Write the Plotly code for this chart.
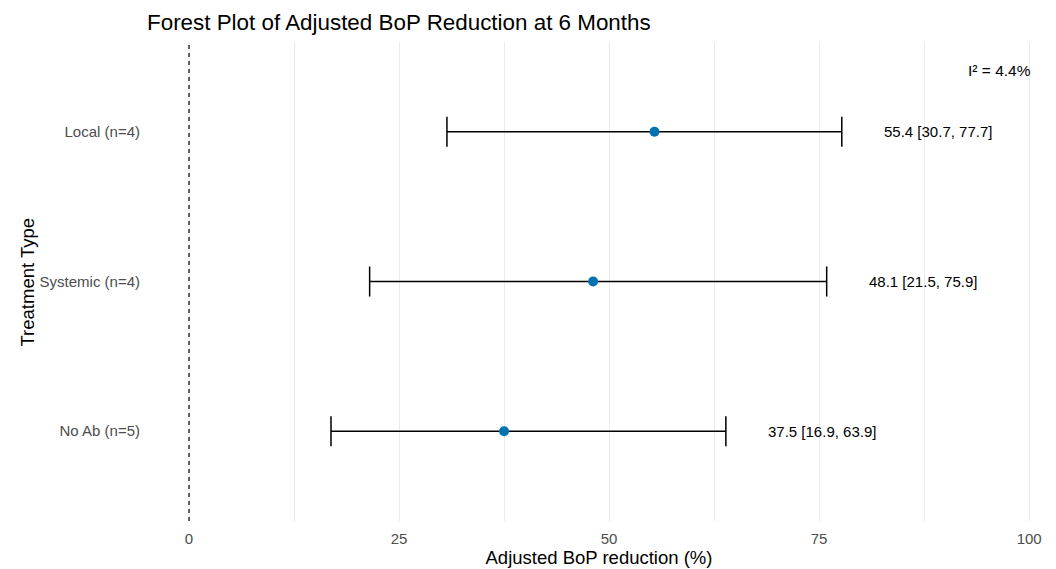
import plotly.graph_objects as go

categories = ["No Ab (n=5)", "Systemic (n=4)", "Local (n=4)"]
estimates = [37.5, 48.1, 55.4]
lowers = [16.9, 21.5, 30.7]
uppers = [63.9, 75.9, 77.7]
x_ticks = [0, 25, 50, 75, 100]
i2_text = "I² = 4.4%"

font_family = "Liberation Sans, Arial, sans-serif"
W, H = 1056, 569
ML, MR, MT, MB = 147, 5, 42, 45

fig = go.Figure()

fig.add_trace(go.Scatter(
    x=estimates,
    y=categories,
    mode="markers",
    marker=dict(color="#0072B2", size=10),
    error_x=dict(
        type="data",
        symmetric=False,
        array=[u - e for u, e in zip(uppers, estimates)],
        arrayminus=[e - l for e, l in zip(estimates, lowers)],
        color="black",
        thickness=1.5,
        width=15,
    ),
    showlegend=False,
    hoverinfo="skip",
))

# reference line
fig.add_shape(type="line", x0=0, x1=0, xref="x", y0=0, y1=1, yref="y domain",
              line=dict(color="black", width=1.2, dash="4px,4px"))

# value labels
for c, e, l, u in zip(categories, estimates, lowers, uppers):
    fig.add_annotation(x=u + 4.8, y=c, xref="x", yref="y",
                       text=f"{e:.1f} [{l:.1f}, {u:.1f}]",
                       showarrow=False, xanchor="left", yanchor="middle",
                       font=dict(family=font_family, size=15, color="black"))

fig.add_annotation(x=100.4, y=2.41, xref="x", yref="y", text=i2_text,
                   showarrow=False, xanchor="right", yanchor="middle",
                   font=dict(family=font_family, size=15.5, color="black"))

# y axis title
plot_w = W - ML - MR
fig.add_annotation(x=(27 - ML) / plot_w, y=0.5, xref="paper", yref="paper",
                   text="Treatment Type", textangle=-90, showarrow=False,
                   xanchor="center", yanchor="middle",
                   font=dict(family=font_family, size=18.5, color="black"))

fig.update_layout(
    width=W, height=H,
    margin=dict(l=ML, r=MR, t=MT, b=MB),
    paper_bgcolor="white", plot_bgcolor="white",
    font=dict(family=font_family, color="black"),
    title=dict(text="Forest Plot of Adjusted BoP Reduction at 6 Months",
               x=147 / W, xanchor="left", xref="container",
               y=1 - 22 / H, yanchor="middle", yref="container",
               font=dict(size=22.4, color="black", family=font_family)),
    xaxis=dict(
        range=[-5, 102.6],
        tickmode="array", tickvals=x_ticks, ticktext=[str(t) for t in x_ticks],
        showgrid=True, gridcolor="#ebebeb", gridwidth=1,
        minor=dict(tickmode="linear", tick0=12.5, dtick=25, showgrid=True,
                   gridcolor="#ebebeb", gridwidth=1),
        zeroline=False, showline=False,
        ticks="outside", ticklen=4, tickcolor="rgba(0,0,0,0)",
        tickfont=dict(size=15, color="#4d4d4d", family=font_family),
        title=dict(text="Adjusted BoP reduction (%)", standoff=4,
                   font=dict(size=18.5, color="black", family=font_family)),
    ),
    yaxis=dict(
        type="category",
        categoryorder="array", categoryarray=categories,
        range=[-0.6, 2.6],
        showgrid=False, zeroline=False, showline=False,
        ticks="outside", ticklen=3, tickcolor="rgba(0,0,0,0)",
        tickfont=dict(size=15, color="#4d4d4d", family=font_family),
    ),
)

fig.write_html("out.html")
